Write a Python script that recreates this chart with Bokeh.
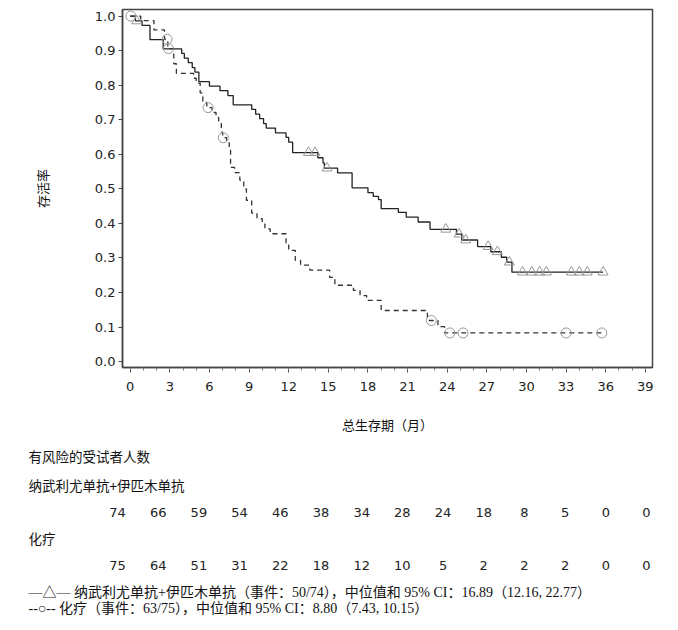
from bokeh.plotting import figure
from bokeh.models import FixedTicker, PrintfTickFormatter, Range1d, Label
from bokeh.embed import file_html
from bokeh.resources import INLINE
from bokeh.core.properties import value

# ---------------- data ----------------
nivo_t = [0, 0.4, 0.9, 1.5, 2.5, 3.9, 4.1, 4.4, 4.7, 4.9, 5.2, 6.0, 6.8, 7.4, 7.8,
          9.2, 9.5, 9.8, 10.1, 10.3, 11.0, 11.8, 12.0, 12.3, 14.2, 14.6, 14.7,
          15.7, 16.8, 18.0, 18.4, 18.8, 19.0, 20.3, 20.9, 21.8, 22.7, 24.7, 25.1,
          26.3, 27.3, 28.1, 28.5, 28.9, 35.8]
nivo_s = [1.0, 0.986, 0.973, 0.932, 0.905, 0.892, 0.878, 0.865, 0.851, 0.838, 0.81,
          0.797, 0.784, 0.770, 0.743, 0.730, 0.716, 0.703, 0.689, 0.676, 0.662,
          0.649, 0.635, 0.605, 0.590, 0.575, 0.560, 0.546, 0.503, 0.489, 0.478,
          0.469, 0.443, 0.432, 0.418, 0.404, 0.383, 0.369, 0.352, 0.333, 0.318,
          0.302, 0.288, 0.259, 0.259]
nivo_cens_t = [0.5, 13.5, 14.0, 14.9, 23.9, 24.9, 25.4, 27.1, 27.8, 28.7,
               29.7, 30.4, 31.0, 31.5, 33.4, 34.0, 34.6, 35.8]
nivo_cens_s = [0.986, 0.605, 0.605, 0.560, 0.383, 0.369, 0.352, 0.333, 0.318, 0.288,
               0.259, 0.259, 0.259, 0.259, 0.259, 0.259, 0.259, 0.259]

chemo_t = [0, 0.8, 1.8, 2.6, 2.85, 3.3, 3.5, 4.8, 5.0, 5.3, 5.5, 5.8, 6.2, 6.5, 6.7,
           6.9, 7.0, 7.3, 7.5, 7.6, 7.9, 8.3, 8.6, 8.8, 9.2, 9.6, 10.0, 10.2, 10.6,
           11.8, 12.0, 12.5, 12.9, 13.6, 15.1, 15.5, 16.9, 17.4, 17.9, 19.0, 22.5,
           23.3, 23.8, 35.7]
chemo_s = [1.0, 0.987, 0.960, 0.933, 0.906, 0.862, 0.834, 0.820, 0.806, 0.778, 0.750,
           0.735, 0.721, 0.707, 0.693, 0.664, 0.648, 0.634, 0.619, 0.562, 0.547,
           0.525, 0.500, 0.467, 0.430, 0.414, 0.398, 0.384, 0.370, 0.341, 0.322,
           0.293, 0.279, 0.265, 0.244, 0.221, 0.206, 0.191, 0.177, 0.148, 0.119,
           0.101, 0.083, 0.083]
chemo_cens_t = [0.05, 2.8, 2.9, 5.9, 7.05, 22.8, 24.2, 25.2, 33.0, 35.7]
chemo_cens_s = [1.0, 0.933, 0.906, 0.735, 0.648, 0.119, 0.083, 0.083, 0.083, 0.083]

x_ticks = list(range(0, 40, 3))
y_ticks = [0.0, 0.1, 0.2, 0.3, 0.4, 0.5, 0.6, 0.7, 0.8, 0.9, 1.0]

risk_times = list(range(0, 40, 3))
risk_nivo = [74, 66, 59, 54, 46, 38, 34, 28, 24, 18, 8, 5, 0, 0]
risk_chemo = [75, 64, 51, 31, 22, 18, 12, 10, 5, 2, 2, 2, 0, 0]

group_nivo = "纳武利尤单抗+伊匹木单抗"
group_chemo = "化疗"
risk_title = "有风险的受试者人数"
legend_nivo = "—△—  纳武利尤单抗+伊匹木单抗（事件：50/74），中位值和 95% CI：16.89（12.16, 22.77）"
legend_chemo = "--○--  化疗（事件：63/75），中位值和 95% CI：8.80（7.43, 10.15）"

SANS = "DejaVu Sans"
CJK = "Noto Sans CJK SC"
MIXED = "Liberation Serif, Noto Sans CJK SC"

# ---------------- KM plot ----------------
W, H = 670, 440
BL, BT = 122, 9
FW, FH = 530, 358
p = figure(width=W, height=H, output_backend="svg", toolbar_location=None,
           x_range=Range1d(-0.58, 39.54), y_range=Range1d(-0.017, 1.019),
           min_border_left=BL, min_border_right=W - BL - FW, min_border_top=BT,
           min_border_bottom=H - BT - FH)
p.background_fill_color = "white"
p.border_fill_color = "white"
p.grid.visible = False
p.outline_line_color = "#444444"
p.outline_line_width = 1.5

p.step(nivo_t, nivo_s, mode="after", line_color="#222222", line_width=1.3)
p.step(chemo_t, chemo_s, mode="after", line_color="#333333", line_width=1.3,
       line_dash="5 4")
p.scatter(nivo_cens_t, nivo_cens_s, marker="triangle", size=10,
          fill_color=None, line_color="#999999", line_width=1)
p.scatter(chemo_cens_t, chemo_cens_s, marker="circle", size=10,
          fill_color=None, line_color="#999999", line_width=1)

xa = p.xaxis[0]
xa.ticker = FixedTicker(ticks=x_ticks, minor_ticks=list(range(0, 40)))
xa.axis_label = "总生存期（月）"
xa.axis_label_text_font = CJK
xa.axis_label_text_font_style = "normal"
xa.axis_label_text_font_size = "13px"
xa.axis_label_text_color = "#111111"
xa.axis_label_standoff = 21
xa.major_label_text_font = SANS
xa.major_label_text_font_size = "13px"
xa.major_label_text_color = "#222222"
xa.major_label_standoff = 9
xa.major_tick_in = 0
xa.major_tick_out = 5
xa.minor_tick_in = 0
xa.minor_tick_out = 3
xa.axis_line_color = "#444444"
xa.axis_line_width = 1.5
xa.major_tick_line_color = "#444444"
xa.minor_tick_line_color = "#777777"

ya = p.yaxis[0]
ya.ticker = FixedTicker(ticks=y_ticks)
ya.formatter = PrintfTickFormatter(format="%.1f")
ya.axis_label = "存活率"
ya.axis_label_text_font = CJK
ya.axis_label_text_font_style = "normal"
ya.axis_label_text_font_size = "13px"
ya.axis_label_text_color = "#111111"
ya.axis_label_standoff = 40
ya.major_label_text_font = SANS
ya.major_label_text_font_size = "13px"
ya.major_label_text_color = "#222222"
ya.major_label_standoff = 3
ya.major_tick_in = 0
ya.major_tick_out = 4
ya.minor_tick_line_color = None
ya.axis_line_color = "#444444"
ya.axis_line_width = 1.5
ya.major_tick_line_color = "#444444"

# ---------------- risk table + legend (second root, below) ----------------
H2 = 182
PX_PER_MONTH = 13.564   # column spacing of the at-risk table
X0 = 117                # pixel position of the month-0 column
p2 = figure(width=W, height=H2, output_backend="svg", toolbar_location=None,
            x_range=Range1d(-X0 / PX_PER_MONTH, (W - X0) / PX_PER_MONTH),
            y_range=Range1d(H2, 0),
            x_axis_type=None, y_axis_type=None,
            min_border_left=0, min_border_right=0, min_border_top=0,
            min_border_bottom=0)
p2.grid.visible = False
p2.outline_line_color = None
p2.background_fill_color = "white"
p2.border_fill_color = "white"

p2.text(risk_times, [72] * len(risk_times), text=[str(v) for v in risk_nivo],
        text_font=value(SANS), text_font_size="13px", text_color="#222222",
        text_align="center", text_baseline="middle")
p2.text(risk_times, [125] * len(risk_times), text=[str(v) for v in risk_chemo],
        text_font=value(SANS), text_font_size="13px", text_color="#222222",
        text_align="center", text_baseline="middle")

for txt, yy, font, fs in [(risk_title, 15, CJK, "13.5px"),
                          (group_nivo, 44, CJK, "13.5px"),
                          (group_chemo, 97, CJK, "13.5px"),
                          (legend_nivo, 152, MIXED, "14px"),
                          (legend_chemo, 168, MIXED, "14px")]:
    p2.add_layout(Label(x=28, y=yy, x_units="screen", y_units="data", text=txt,
                        text_font=font, text_font_size=fs,
                        text_color="#111111", text_baseline="middle",
                        text_align="left"))

open("out.html", "w").write(file_html([p, p2], INLINE))
